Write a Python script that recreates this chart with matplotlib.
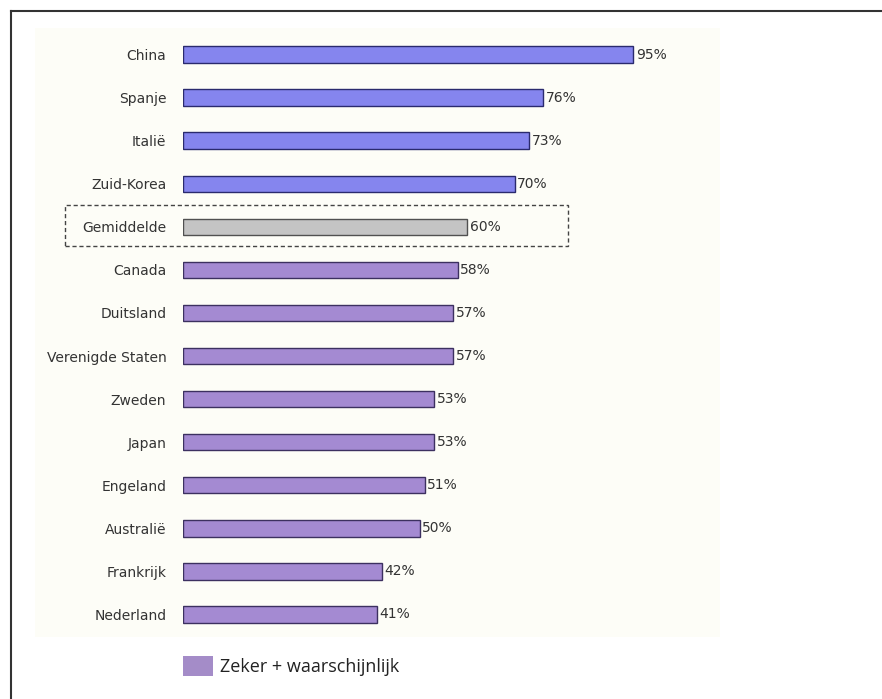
import matplotlib
matplotlib.use('Agg')
import matplotlib.pyplot as plt
from matplotlib.patches import Rectangle
from matplotlib.lines import Line2D

# data
landen = ['China', 'Spanje', 'Italië', 'Zuid-Korea', 'Gemiddelde', 'Canada',
          'Duitsland', 'Verenigde Staten', 'Zweden', 'Japan', 'Engeland',
          'Australië', 'Frankrijk', 'Nederland']
waarden = [95, 76, 73, 70, 60, 58, 57, 57, 53, 53, 51, 50, 42, 41]
groep = ['top', 'top', 'top', 'top', 'gem', 'rest', 'rest', 'rest', 'rest',
         'rest', 'rest', 'rest', 'rest', 'rest']
legenda_tekst = 'Zeker + waarschijnlijk'

kleuren = {'top': '#8585ee', 'gem': '#c4c4c4', 'rest': '#a48ad2'}
randen = {'top': '#2a2a6e', 'gem': '#505050', 'rest': '#3c3060'}

W, H = 882, 699
fig = plt.figure(figsize=(W / 100, H / 100), dpi=100)
fig.patch.set_facecolor('white')

def fx(px):
    return px / W

def fy(py):
    return 1 - py / H

# faint plot background
fig.patches.append(Rectangle((fx(35), fy(637)), fx(720) - fx(35), fy(28) - fy(637),
                             transform=fig.transFigure, facecolor='#fdfdf7',
                             edgecolor='none', zorder=-5))

# outer frame (left + top visible)
fig.add_artist(Line2D([fx(11), fx(11)], [fy(11), 0], transform=fig.transFigure,
                      color='#333333', lw=1.5))
fig.add_artist(Line2D([fx(11), 1], [fy(11), fy(11)], transform=fig.transFigure,
                      color='#333333', lw=1.5))

ax = fig.add_axes([fx(183), fy(636), fx(720) - fx(183), fy(33) - fy(636)])
ax.set_facecolor('none')
ax.set_zorder(2)
ypos = list(range(len(landen)))
for y, v, g in zip(ypos, waarden, groep):
    ax.barh(y, v, height=0.38, color=kleuren[g], edgecolor=randen[g], linewidth=1.0)
    ax.text(v + 0.5, y, f'{v}%', va='center', ha='left', fontsize=10, color='#333333')

ax.set_ylim(len(landen) - 0.5, -0.5)
ax.set_xlim(0, (720 - 183) / 4.74)
ax.set_yticks(ypos)
ax.set_yticklabels(landen, fontsize=10, color='#333333')
ax.tick_params(axis='y', length=0, pad=12)
ax.set_xticks([])
for s in ax.spines.values():
    s.set_visible(False)

# dashed box around the average
fig.patches.append(Rectangle((fx(65), fy(246)), fx(568) - fx(65), fy(205) - fy(246),
                             transform=fig.transFigure, facecolor='none',
                             edgecolor='#444444', lw=1.0, linestyle=(0, (3, 2)), zorder=5))

# legend
fig.patches.append(Rectangle((fx(183), fy(676)), fx(213) - fx(183), fy(656) - fy(676),
                             transform=fig.transFigure, facecolor='#a48cc8',
                             edgecolor='none'))
fig.text(fx(220), fy(667), legenda_tekst, fontsize=13, family=['Open Sans', 'DejaVu Sans'],
         color='#222222', va='center', ha='left')

fig.savefig('out.png', dpi=100)
